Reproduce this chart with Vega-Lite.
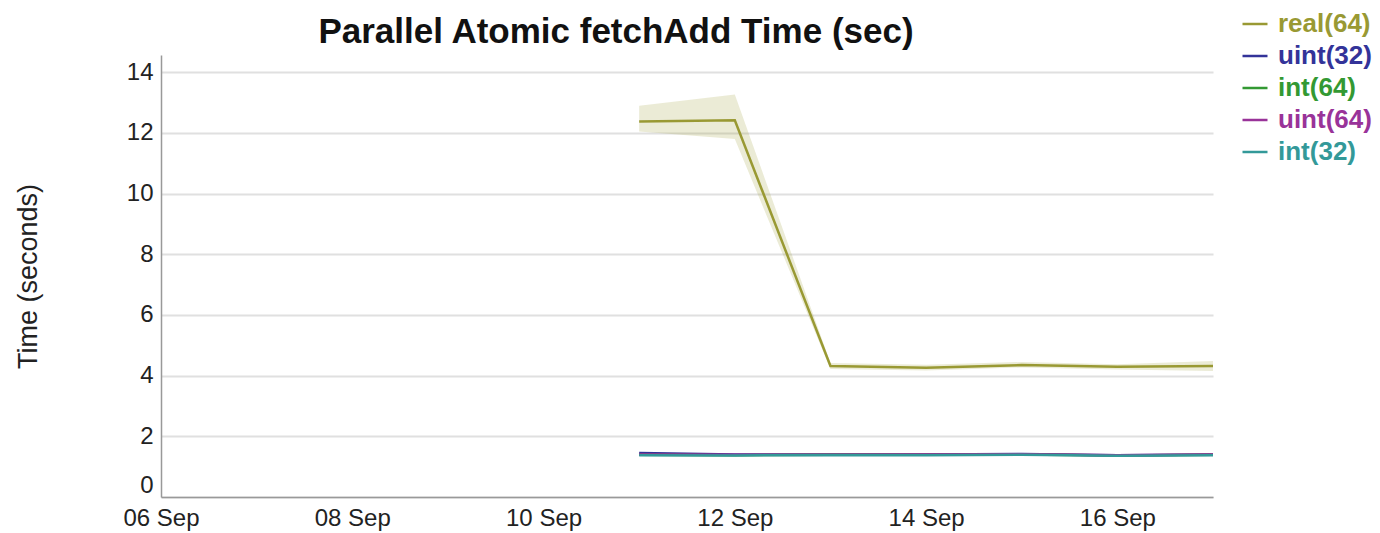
{
  "$schema": "https://vega.github.io/schema/vega-lite/v6.json",
  "autosize": {"type": "none"},
  "width": 1052,
  "height": 442,
  "padding": {"left": 161, "top": 55, "right": 167, "bottom": 36},
  "title": {"text": "Parallel Atomic fetchAdd Time (sec)", "fontSize": 35, "fontWeight": "bold", "font": "Liberation Sans", "color": "#111", "anchor": "middle", "dx": -71, "offset": -40},
  "config": {
    "view": {"stroke": null},
    "font": "Liberation Sans",
    "axis": {"labelFont": "Liberation Sans", "labelFontSize": 24, "labelColor": "#222", "ticks": false, "labelFlush": false, "domainColor": "#999", "domainWidth": 1.5, "gridColor": "#e0e0e0", "gridWidth": 2, "titleFont": "Liberation Sans", "titleFontWeight": "normal", "titleFontSize": 27, "titleColor": "#222"}
  },
  "data": {"values": [
    {"date": "2016-09-11", "series": "real(64)", "value": 12.38, "lo": 12.05, "hi": 12.9},
    {"date": "2016-09-12", "series": "real(64)", "value": 12.42, "lo": 11.8, "hi": 13.27},
    {"date": "2016-09-13", "series": "real(64)", "value": 4.32, "lo": 4.22, "hi": 4.42},
    {"date": "2016-09-14", "series": "real(64)", "value": 4.26, "lo": 4.17, "hi": 4.36},
    {"date": "2016-09-15", "series": "real(64)", "value": 4.35, "lo": 4.27, "hi": 4.45},
    {"date": "2016-09-16", "series": "real(64)", "value": 4.29, "lo": 4.2, "hi": 4.38},
    {"date": "2016-09-17", "series": "real(64)", "value": 4.32, "lo": 4.15, "hi": 4.48},
    {"date": "2016-09-11", "series": "uint(32)", "value": 1.45, "lo": 1.43, "hi": 1.47},
    {"date": "2016-09-12", "series": "uint(32)", "value": 1.4, "lo": 1.38, "hi": 1.42},
    {"date": "2016-09-13", "series": "uint(32)", "value": 1.4, "lo": 1.38, "hi": 1.42},
    {"date": "2016-09-14", "series": "uint(32)", "value": 1.4, "lo": 1.38, "hi": 1.42},
    {"date": "2016-09-15", "series": "uint(32)", "value": 1.42, "lo": 1.4, "hi": 1.44},
    {"date": "2016-09-16", "series": "uint(32)", "value": 1.38, "lo": 1.36, "hi": 1.4},
    {"date": "2016-09-17", "series": "uint(32)", "value": 1.4, "lo": 1.38, "hi": 1.42},
    {"date": "2016-09-11", "series": "int(64)", "value": 1.39, "lo": 1.37, "hi": 1.41},
    {"date": "2016-09-12", "series": "int(64)", "value": 1.38, "lo": 1.36, "hi": 1.4},
    {"date": "2016-09-13", "series": "int(64)", "value": 1.39, "lo": 1.37, "hi": 1.41},
    {"date": "2016-09-14", "series": "int(64)", "value": 1.39, "lo": 1.37, "hi": 1.41},
    {"date": "2016-09-15", "series": "int(64)", "value": 1.4, "lo": 1.38, "hi": 1.42},
    {"date": "2016-09-16", "series": "int(64)", "value": 1.37, "lo": 1.35, "hi": 1.39},
    {"date": "2016-09-17", "series": "int(64)", "value": 1.39, "lo": 1.37, "hi": 1.41},
    {"date": "2016-09-11", "series": "uint(64)", "value": 1.4, "lo": 1.38, "hi": 1.42},
    {"date": "2016-09-12", "series": "uint(64)", "value": 1.39, "lo": 1.37, "hi": 1.41},
    {"date": "2016-09-13", "series": "uint(64)", "value": 1.39, "lo": 1.37, "hi": 1.41},
    {"date": "2016-09-14", "series": "uint(64)", "value": 1.4, "lo": 1.38, "hi": 1.42},
    {"date": "2016-09-15", "series": "uint(64)", "value": 1.41, "lo": 1.39, "hi": 1.43},
    {"date": "2016-09-16", "series": "uint(64)", "value": 1.38, "lo": 1.36, "hi": 1.4},
    {"date": "2016-09-17", "series": "uint(64)", "value": 1.4, "lo": 1.38, "hi": 1.42},
    {"date": "2016-09-11", "series": "int(32)", "value": 1.38, "lo": 1.36, "hi": 1.4},
    {"date": "2016-09-12", "series": "int(32)", "value": 1.37, "lo": 1.35, "hi": 1.39},
    {"date": "2016-09-13", "series": "int(32)", "value": 1.38, "lo": 1.36, "hi": 1.4},
    {"date": "2016-09-14", "series": "int(32)", "value": 1.38, "lo": 1.36, "hi": 1.4},
    {"date": "2016-09-15", "series": "int(32)", "value": 1.39, "lo": 1.37, "hi": 1.41},
    {"date": "2016-09-16", "series": "int(32)", "value": 1.36, "lo": 1.34, "hi": 1.38},
    {"date": "2016-09-17", "series": "int(32)", "value": 1.38, "lo": 1.36, "hi": 1.4}
  ]},
  "encoding": {
    "x": {"field": "date", "type": "temporal",
      "scale": {"type": "utc", "domain": [{"year": 2016, "month": "sep", "date": 6, "utc": true}, {"year": 2016, "month": "sep", "date": 17, "utc": true}]},
      "axis": {"title": null, "grid": false, "format": "%d %b", "labelPadding": 9,
        "values": [{"year": 2016, "month": "sep", "date": 6, "utc": true}, {"year": 2016, "month": "sep", "date": 8, "utc": true}, {"year": 2016, "month": "sep", "date": 10, "utc": true}, {"year": 2016, "month": "sep", "date": 12, "utc": true}, {"year": 2016, "month": "sep", "date": 14, "utc": true}, {"year": 2016, "month": "sep", "date": 16, "utc": true}]}},
    "color": {"field": "series", "type": "nominal",
      "scale": {"domain": ["real(64)", "uint(32)", "int(64)", "uint(64)", "int(32)"], "range": ["#999933", "#333399", "#339933", "#993399", "#339999"]},
      "legend": {"title": null, "orient": "none", "legendX": 1080, "legendY": -45, "symbolType": "stroke", "symbolSize": 625, "symbolStrokeWidth": 2.5, "labelFontSize": 26, "labelFont": "Liberation Sans", "labelFontWeight": "bold", "rowPadding": 5, "labelOffset": 9, "symbolOpacity": 1,
        "encode": {"labels": {"update": {"fill": {"scale": "color", "field": "value"}}}}}}
  },
  "layer": [
    {
      "mark": {"type": "area", "opacity": 0.2},
      "encoding": {
        "y": {"field": "lo", "type": "quantitative", "scale": {"domain": [0, 14.57], "nice": false, "zero": true}},
        "y2": {"field": "hi"}
      }
    },
    {
      "mark": {"type": "line", "strokeWidth": 2.5},
      "encoding": {
        "y": {"field": "value", "type": "quantitative",
          "axis": {"title": "Time (seconds)", "values": [0, 2, 4, 6, 8, 10, 12, 14], "labelPadding": 8, "titlePadding": 84, "labelFlush": true}},
        "order": {"field": "date", "type": "temporal"}
      }
    }
  ]
}
